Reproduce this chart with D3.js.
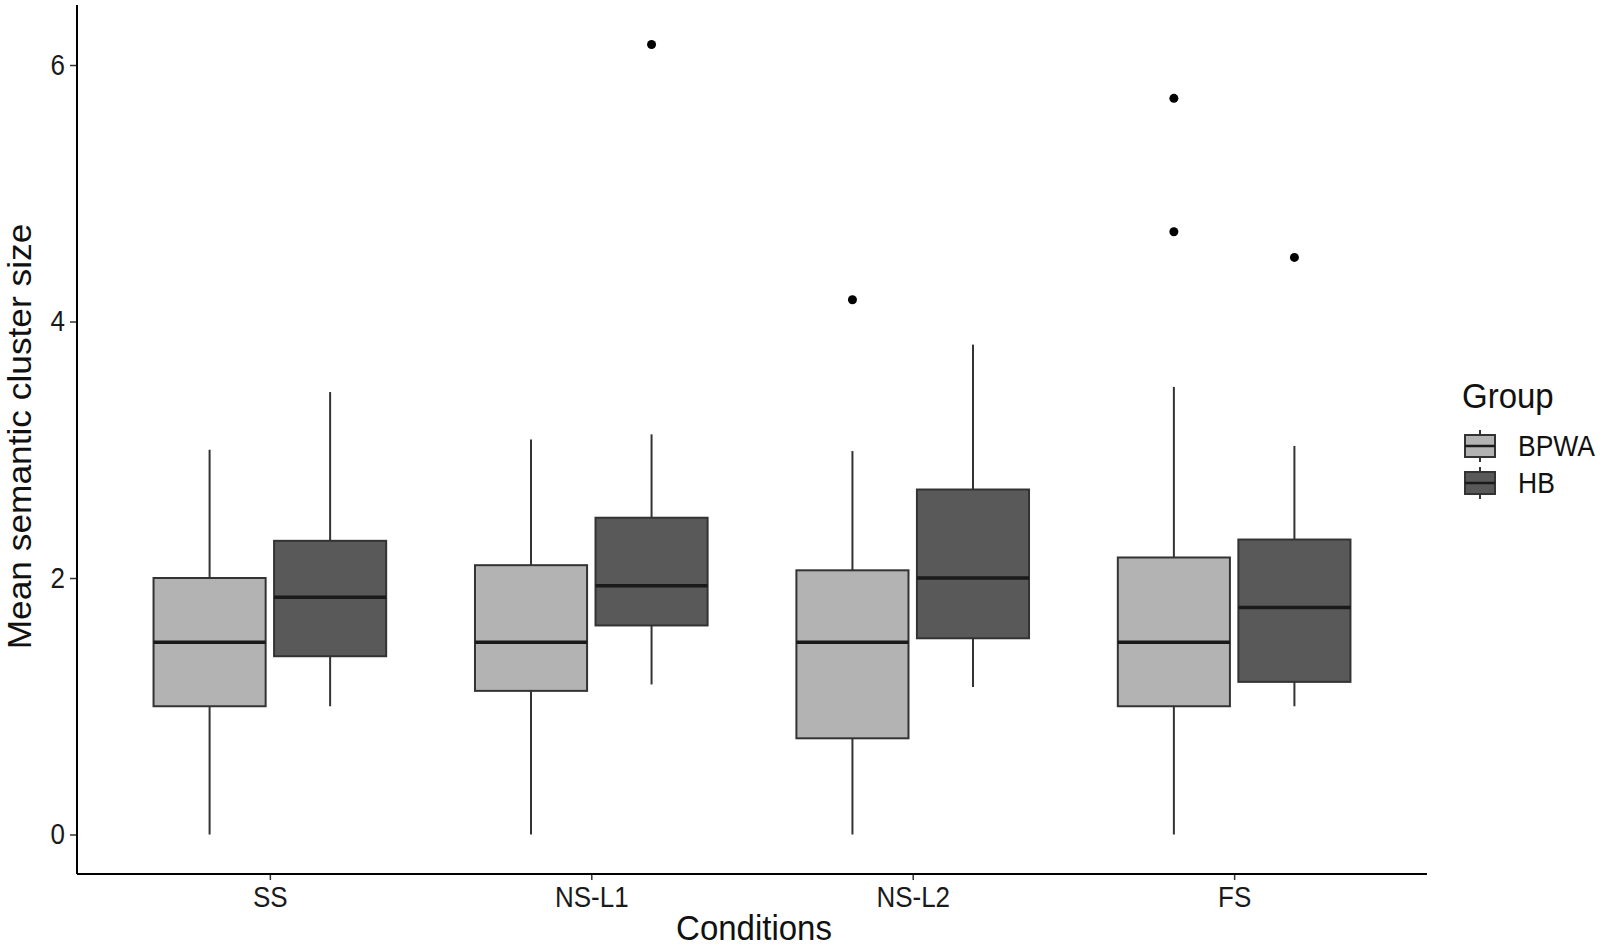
<!DOCTYPE html>
<html>
<head>
<meta charset="utf-8">
<script src="https://cdn.jsdelivr.net/npm/d3@7/dist/d3.min.js"></script>
<style>
  html, body { margin: 0; padding: 0; background: #fff; }
  text { font-family: "Liberation Sans", Arial, sans-serif; }
</style>
</head>
<body>
<svg id="chart" width="1603" height="950"></svg>
<script>
// ---- data ----
const conditions = ["SS", "NS-L1", "NS-L2", "FS"];
const groups = ["BPWA", "HB"];
const groupColors = ["#b3b3b3", "#595959"];
const yTicks = [0, 2, 4, 6];

const bpwaLow  = [0.00, 0.00, 0.00, 0.00];
const bpwaQ1   = [1.00, 1.12, 0.75, 1.00];
const bpwaMed  = [1.50, 1.50, 1.50, 1.50];
const bpwaQ3   = [2.00, 2.10, 2.06, 2.16];
const bpwaHigh = [3.00, 3.08, 2.99, 3.49];
const bpwaOut  = [[], [], [4.17], [5.74, 4.70]];

const hbLow  = [1.00, 1.17, 1.15, 1.00];
const hbQ1   = [1.39, 1.63, 1.53, 1.19];
const hbMed  = [1.85, 1.94, 2.00, 1.77];
const hbQ3   = [2.29, 2.47, 2.69, 2.30];
const hbHigh = [3.45, 3.12, 3.82, 3.03];
const hbOut  = [[], [6.16], [], [4.50]];

(function () {
const rows = [];
conditions.forEach((c, i) => {
  rows.push({cond: c, group: "BPWA", low: bpwaLow[i], q1: bpwaQ1[i], med: bpwaMed[i], q3: bpwaQ3[i], high: bpwaHigh[i], out: bpwaOut[i]});
  rows.push({cond: c, group: "HB", low: hbLow[i], q1: hbQ1[i], med: hbMed[i], q3: hbQ3[i], high: hbHigh[i], out: hbOut[i]});
});

const svg = d3.select("#chart");
const pLeft = 77, pRight = 1427, pTop = 5, pBottom = 874;
const TICK_SY = 1.12, TITLE_SY = 1.07;

const x = d3.scalePoint().domain(conditions).range([pLeft, pRight]).padding(0.6);
const step = x.step();
const xg = d3.scaleBand().domain(groups).range([-0.375 * step, 0.375 * step]);
const boxW = xg.bandwidth() * 0.93;

const allMax = d3.max([...bpwaHigh, ...hbHigh, ...bpwaOut.flat(), ...hbOut.flat()]);
const allMin = d3.min([...bpwaLow, ...hbLow]);
const pad = (allMax - allMin) * 0.05;
const y = d3.scaleLinear().domain([allMin - pad, allMax + pad]).range([pBottom, pTop]);

const color = d3.scaleOrdinal().domain(groups).range(groupColors);

const g = svg.append("g");

const box = g.selectAll("g.box").data(rows).enter().append("g")
  .attr("class", "box")
  .attr("transform", d => `translate(${x(d.cond) + xg(d.group) + xg.bandwidth() / 2},0)`);

box.append("line").attr("x1", 0).attr("x2", 0)
  .attr("y1", d => y(d.high)).attr("y2", d => y(d.q3))
  .attr("stroke", "#333").attr("stroke-width", 2);
box.append("line").attr("x1", 0).attr("x2", 0)
  .attr("y1", d => y(d.q1)).attr("y2", d => y(d.low))
  .attr("stroke", "#333").attr("stroke-width", 2);
box.append("rect")
  .attr("x", -boxW / 2).attr("width", boxW)
  .attr("y", d => y(d.q3)).attr("height", d => y(d.q1) - y(d.q3))
  .attr("fill", d => color(d.group))
  .attr("stroke", "#333").attr("stroke-width", 2);
box.append("line").attr("x1", -boxW / 2).attr("x2", boxW / 2)
  .attr("y1", d => y(d.med)).attr("y2", d => y(d.med))
  .attr("stroke", "#1a1a1a").attr("stroke-width", 3.5);
box.selectAll("circle").data(d => d.out).enter().append("circle")
  .attr("cx", 0).attr("cy", v => y(v)).attr("r", 4.5).attr("fill", "#000");

// ---- axes ----
const yAxis = g.append("g").attr("transform", `translate(${pLeft},0)`)
  .call(d3.axisLeft(y).tickValues(yTicks).tickFormat(d3.format("d")).tickSize(7));
yAxis.select(".domain").remove();
yAxis.selectAll(".tick line").attr("stroke", "#333").attr("stroke-width", 1.5);
yAxis.selectAll(".tick text")
  .attr("x", 0).attr("dy", null).attr("y", 0)
  .attr("transform", `translate(-12,9) scale(1,${TICK_SY})`)
  .attr("font-size", 26).attr("fill", "#1a1a1a");

const xAxis = g.append("g").attr("transform", `translate(0,${pBottom})`)
  .call(d3.axisBottom(x).tickSize(6));
xAxis.select(".domain").remove();
xAxis.selectAll(".tick line").attr("stroke", "#333").attr("stroke-width", 1.5);
xAxis.selectAll(".tick text")
  .attr("y", 0).attr("dy", null)
  .attr("transform", `translate(0,33) scale(1,${TICK_SY})`)
  .attr("font-size", 26).attr("fill", "#1a1a1a");

g.append("line").attr("x1", pLeft).attr("x2", pLeft).attr("y1", pTop).attr("y2", pBottom)
  .attr("stroke", "#000").attr("stroke-width", 2);
g.append("line").attr("x1", pLeft).attr("x2", pRight).attr("y1", pBottom).attr("y2", pBottom)
  .attr("stroke", "#000").attr("stroke-width", 2);

// ---- axis titles ----
svg.append("text")
  .attr("transform", `translate(${(pLeft + pRight) / 2 + 2},940) scale(1,${TITLE_SY})`)
  .attr("text-anchor", "middle").attr("font-size", 33).attr("fill", "#111")
  .text("Conditions");
svg.append("text")
  .attr("transform", `translate(31,${(pTop + pBottom) / 2 - 3}) scale(1,${TITLE_SY}) rotate(-90)`)
  .attr("text-anchor", "middle").attr("font-size", 33).attr("fill", "#111")
  .text("Mean semantic cluster size");

// ---- legend ----
const lg = svg.append("g").attr("transform", "translate(1462,0)");
lg.append("text").attr("transform", `translate(0,408) scale(1,${TITLE_SY})`)
  .attr("font-size", 33).attr("fill", "#111").text("Group");
const keyY = d3.scalePoint().domain(groups).range([446, 483]);
const key = lg.selectAll("g.key").data(groups).enter().append("g")
  .attr("transform", d => `translate(0,${keyY(d)})`);
key.append("line").attr("x1", 18).attr("x2", 18).attr("y1", -16).attr("y2", 16)
  .attr("stroke", "#333").attr("stroke-width", 2);
key.append("rect").attr("x", 3).attr("y", -11).attr("width", 30).attr("height", 22)
  .attr("fill", d => color(d)).attr("stroke", "#333").attr("stroke-width", 2);
key.append("line").attr("x1", 3).attr("x2", 33).attr("y1", 0).attr("y2", 0)
  .attr("stroke", "#1a1a1a").attr("stroke-width", 2.5);
key.append("text").attr("transform", `translate(56,10) scale(1,${TICK_SY})`)
  .attr("font-size", 26.5).attr("fill", "#111").text(d => d);
})();
</script>
</body>
</html>
